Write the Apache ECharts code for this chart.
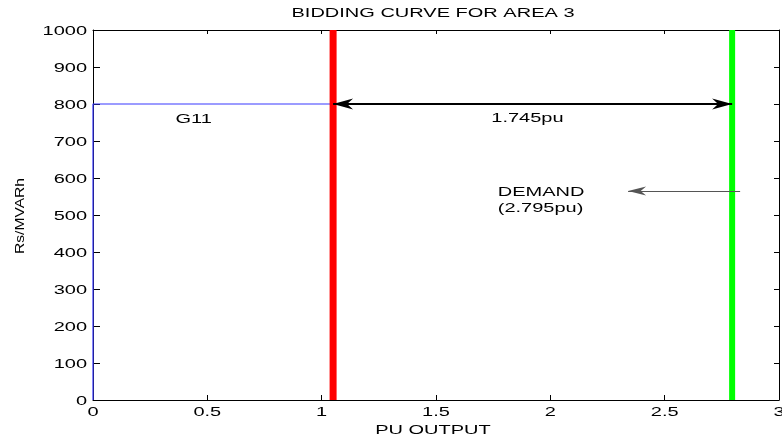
<!DOCTYPE html>
<html>
<head>
<meta charset="utf-8">
<title>Bidding curve for area 3</title>
<script src="https://cdn.jsdelivr.net/npm/echarts@6/dist/echarts.min.js"></script>
</head>
<body style="margin:0">
<div id="main" style="width:782px;height:442px"></div>
<script type="text/javascript">
// values
var xTicks = [0, 0.5, 1, 1.5, 2, 2.5, 3];
var yTicks = [0, 100, 200, 300, 400, 500, 600, 700, 800, 900, 1000];
var bidCurve = [[0, 0], [0, 800], [1.05, 800]];   // G11 bid
var clearedLine = [[1.05, 0], [1.05, 1000]];       // red
var demandLine = [[2.795, 0], [2.795, 1000]];      // green
var spanArrow = [[1.05, 800], [2.795, 800]];       // 1.745pu
var demandArrow = [[2.83, 565], [2.34, 565]];
var notes = [
    { text: 'G11', coord: [0.44, 757], align: 'center' },
    { text: '1.745pu', coord: [1.90, 762], align: 'center' },
    { text: 'DEMAND', coord: [1.77, 560], align: 'left' },
    { text: '(2.795pu)', coord: [1.77, 517], align: 'left' }
];

var font = 'Arial, "Liberation Sans", sans-serif';
var fs = 12.5;
var stretch = 1.6;   // the original figure is stretched sideways
// tip sits in the middle of the box, so it lands on the line end
var arrowHead = 'path://M5,0 L5,0 Z M5,20 L10,40 L5,34 L0,40 Z';

var myChart = echarts.init(document.getElementById('main'));

var axisCommon = {
    type: 'value',
    axisLine: { show: true, onZero: false, lineStyle: { color: '#000', width: 1 } },
    axisTick: { show: true, inside: true, length: 5, lineStyle: { color: '#000' } },
    splitLine: { show: false },
    axisLabel: { show: false }
};

var option = {
    animation: false,
    backgroundColor: '#fff',
    grid: { left: 93, right: 3, top: 30, bottom: 42 },
    xAxis: [
        Object.assign({}, axisCommon, { min: 0, max: 3, interval: 0.5, position: 'bottom' }),
        Object.assign({}, axisCommon, { min: 0, max: 3, interval: 0.5, position: 'top',
            axisTick: Object.assign({}, axisCommon.axisTick, { length: 4 }) })
    ],
    yAxis: [
        Object.assign({}, axisCommon, { min: 0, max: 1000, interval: 100, position: 'left',
            axisTick: Object.assign({}, axisCommon.axisTick, { length: 7 }) }),
        Object.assign({}, axisCommon, { min: 0, max: 1000, interval: 100, position: 'right' })
    ],
    series: [
        {
            type: 'line', data: bidCurve, symbol: 'none', clip: false, z: 3,
            lineStyle: { color: '#3838ff', width: 1.2 }
        },
        {
            type: 'line', data: clearedLine, symbol: 'none', z: 4,
            lineStyle: { color: '#ff0000', width: 7 }
        },
        {
            type: 'line', data: demandLine, symbol: 'none', z: 4,
            lineStyle: { color: '#00ff00', width: 6 }
        },
        {
            type: 'line', data: [], z: 5,
            markLine: {
                silent: true, animation: false,
                symbol: [arrowHead, arrowHead], symbolSize: [11, 40],
                label: { show: false },
                lineStyle: { color: '#000', width: 2, type: 'solid' },
                data: [[{ coord: spanArrow[0] }, { coord: spanArrow[1] }]]
            }
        },
        {
            type: 'line', data: [], z: 5,
            markLine: {
                silent: true, animation: false,
                symbol: ['none', arrowHead], symbolSize: [9, 36],
                label: { show: false },
                lineStyle: { color: '#555', width: 1, type: 'solid' },
                data: [[{ coord: demandArrow[0] }, { coord: demandArrow[1] }]]
            }
        }
    ]
};

myChart.setOption(option);

// texts, placed through the chart's own scales
function txt(str, x, y, align, opts) {
    opts = opts || {};
    return {
        type: 'text', x: x, y: y, z: 100,
        scaleX: opts.scaleX || stretch, rotation: opts.rotation || 0,
        style: {
            text: str, align: align, verticalAlign: 'middle',
            fontSize: opts.size || fs, fontFamily: font, fill: '#000'
        }
    };
}
var g = [];
var x0 = myChart.convertToPixel({ xAxisIndex: 0 }, 0);
var x3 = myChart.convertToPixel({ xAxisIndex: 0 }, 3);
var y0 = myChart.convertToPixel({ yAxisIndex: 0 }, 0);
var y1000 = myChart.convertToPixel({ yAxisIndex: 0 }, 1000);
xTicks.forEach(function (v) {
    g.push(txt(String(v), myChart.convertToPixel({ xAxisIndex: 0 }, v), y0 + 13, 'center'));
});
yTicks.forEach(function (v) {
    g.push(txt(String(v), x0 - 6, myChart.convertToPixel({ yAxisIndex: 0 }, v) + 1.5, 'right'));
});
notes.forEach(function (n) {
    var p = myChart.convertToPixel({ xAxisIndex: 0, yAxisIndex: 0 }, n.coord);
    g.push(txt(n.text, p[0], p[1], n.align));
});
var midX = (x0 + x3) / 2 - 3;
g.push(txt('BIDDING CURVE FOR AREA 3', midX, 14, 'center'));
g.push(txt('PU OUTPUT', midX, y0 + 31, 'center'));
g.push(txt('Rs/MVARh', 20, (y0 + y1000) / 2 + 1, 'center',
    { rotation: Math.PI / 2, size: 13, scaleX: 1.2 }));

myChart.setOption({ graphic: g });
</script>
</body>
</html>
